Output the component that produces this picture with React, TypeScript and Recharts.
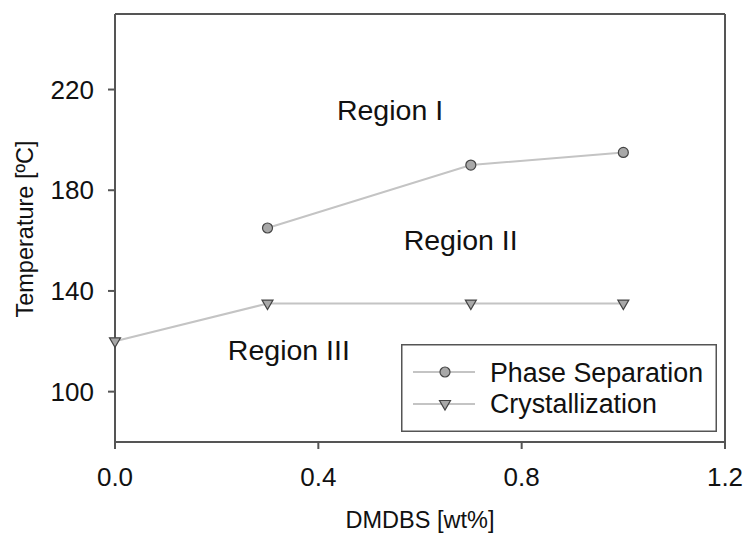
import React from 'react';
import { LineChart, Line, XAxis, YAxis, ReferenceLine, ReferenceDot } from 'recharts';

const dmdbsPhase = [0.3, 0.7, 1.0];
const phaseSeparation = [165, 190, 195];
const dmdbsCryst = [0, 0.3, 0.7, 1.0];
const crystallization = [120, 135, 135, 135];
const xTicks = [0, 0.4, 0.8, 1.2];
const yTicks = [100, 140, 180, 220];
const regionNames = ['Region I', 'Region II', 'Region III'];
const regionX = [0.541, 0.68, 0.342];
const regionY = [211.9, 160.2, 116.6];

const phaseData = dmdbsPhase.map((x, i) => ({ x, y: phaseSeparation[i] }));
const crystData = dmdbsCryst.map((x, i) => ({ x, y: crystallization[i] }));

const FONT = '"Liberation Sans", Arial, Helvetica, sans-serif';
const LINE = '#c4c4c4';
const MARK_FILL = '#a8a8a8';
const MARK_STROKE = '#444';
const FRAME = '#555';

const Circle = (props: any) => {
  const { cx, cy, index } = props;
  if (cx == null || cy == null) return <g key={`c${index}`} />;
  return <circle key={`c${index}`} cx={cx} cy={cy} r={5} fill={MARK_FILL} stroke={MARK_STROKE} strokeWidth={1.2} />;
};

const Tri = (props: any) => {
  const { cx, cy, index } = props;
  if (cx == null || cy == null) return <g key={`t${index}`} />;
  const d = `M${cx - 5.5},${cy - 3.5} L${cx + 5.5},${cy - 3.5} L${cx},${cy + 6} Z`;
  return <path key={`t${index}`} d={d} fill={MARK_FILL} stroke={MARK_STROKE} strokeWidth={1.2} />;
};

const LegendBox = () => (
  <svg width={316} height={88} style={{ display: 'block', fontFamily: FONT }}>
    <rect x={0.75} y={0.75} width={314.5} height={86.5} fill="#fff" stroke={FRAME} strokeWidth={1.5} />
    <line x1={12} x2={74} y1={28} y2={28} stroke={LINE} strokeWidth={2} />
    <circle cx={44} cy={28} r={5} fill={MARK_FILL} stroke={MARK_STROKE} strokeWidth={1.2} />
    <text x={89} y={38} fontSize={26.8} fill="#111">Phase Separation</text>
    <line x1={12} x2={74} y1={60} y2={60} stroke={LINE} strokeWidth={2} />
    <path d={`M${44 - 5.5},${60 - 3.5} L${44 + 5.5},${60 - 3.5} L44,${60 + 6} Z`} fill={MARK_FILL} stroke={MARK_STROKE} strokeWidth={1.2} />
    <text x={89} y={69} fontSize={26.8} fill="#111">Crystallization</text>
  </svg>
);

export default function App() {
  return (
    <div style={{ position: 'absolute', left: 0, top: 0, width: 745, height: 533, background: '#fff' }}>
      <LineChart
        width={745}
        height={533}
        margin={{ top: 14, right: 20, left: 0, bottom: 0 }}
        style={{ fontFamily: FONT }}
      >
        <XAxis
          type="number"
          dataKey="x"
          domain={[0, 1.2]}
          ticks={xTicks}
          tickFormatter={(v: number) => v.toFixed(1)}
          height={91}
          tickSize={7}
          tickMargin={19}
          stroke={FRAME}
          strokeWidth={2}
          tick={{ fontSize: 26, fill: '#111', fontFamily: FONT }}
          allowDuplicatedCategory={false}
          label={{
            content: () => (
              <text x={420} y={528} textAnchor="middle" fontSize={23.5} fill="#111" fontFamily={FONT}>
                DMDBS [wt%]
              </text>
            ),
          }}
        />
        <YAxis
          type="number"
          dataKey="y"
          domain={[80, 250]}
          ticks={yTicks}
          width={115}
          tickSize={7}
          tickMargin={14}
          stroke={FRAME}
          strokeWidth={2}
          tick={{ fontSize: 26, fill: '#111', fontFamily: FONT }}
          label={{
            content: () => (
              <text
                x={33}
                y={229}
                transform="rotate(-90, 33, 229)"
                textAnchor="middle"
                fontSize={23.5}
                fill="#111"
                fontFamily={FONT}
              >
                Temperature [ºC]
              </text>
            ),
          }}
        />
        <ReferenceLine y={250} stroke={FRAME} strokeWidth={2} />
        <ReferenceLine x={1.2} stroke={FRAME} strokeWidth={2} />
        {regionNames.map((name, i) => (
          <ReferenceDot
            key={name}
            x={regionX[i]}
            y={regionY[i]}
            r={0}
            fill="none"
            stroke="none"
            label={{ value: name, position: 'center', fontSize: 28.5, fill: '#111', fontFamily: FONT }}
          />
        ))}
        <Line
          data={crystData}
          dataKey="y"
          name="Crystallization"
          stroke={LINE}
          strokeWidth={2}
          dot={Tri}
          activeDot={false}
          isAnimationActive={false}
        />
        <Line
          data={phaseData}
          dataKey="y"
          name="Phase Separation"
          stroke={LINE}
          strokeWidth={2}
          dot={Circle}
          activeDot={false}
          isAnimationActive={false}
        />
      </LineChart>
      <div style={{ position: 'absolute', left: 401, top: 344, width: 316, height: 88 }}>
        <LegendBox />
      </div>
    </div>
  );
}
